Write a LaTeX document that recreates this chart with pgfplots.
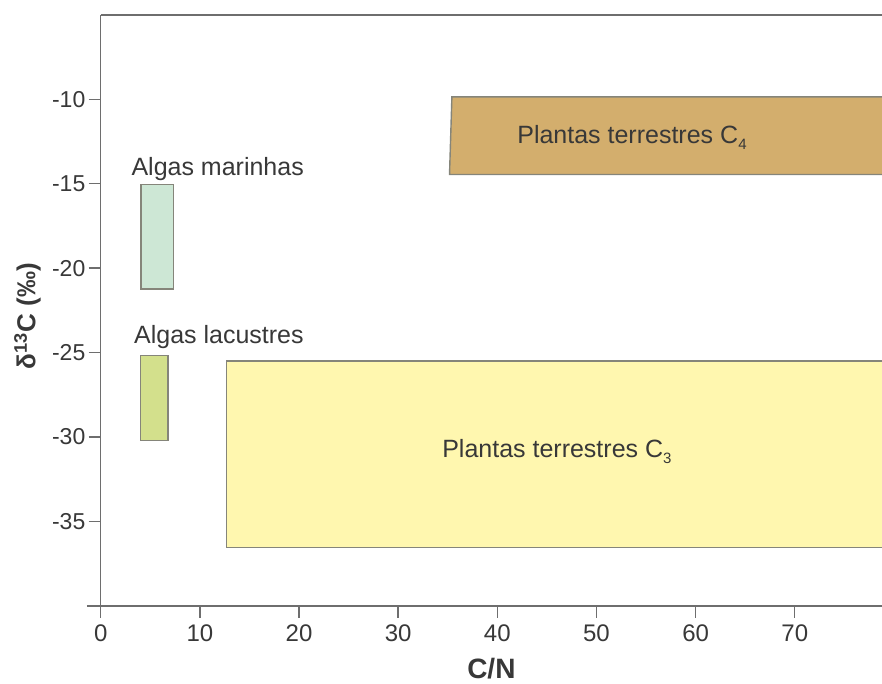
\documentclass[border=0pt]{standalone}
\usepackage{fontspec}
\setmainfont{Liberation Sans}
\usepackage{pgfplots}
\pgfplotsset{compat=1.18}
\definecolor{axisgray}{HTML}{6E6E6E}
\definecolor{txt}{HTML}{383838}
\definecolor{edge}{HTML}{85857A}
\definecolor{marfill}{HTML}{CDE7D5}
\definecolor{lacfill}{HTML}{D3E08C}
\definecolor{cthree}{HTML}{FFF7AF}
\definecolor{cfour}{HTML}{D3AE6D}
\newcommand{\sub}[1]{\raisebox{-0.45ex}{\fontsize{7.5}{8}\selectfont #1}}
\begin{document}
\begin{tikzpicture}
\useasboundingbox (-50.35pt,-39.15pt) rectangle (390.65pt,302.85pt);
\begin{axis}[
  scale only axis, width=390.65pt, height=295.35pt,
  xmin=0, xmax=78.8, ymin=-40, ymax=-5,
  axis lines=left,
  axis line style={-, draw=axisgray, line width=0.8pt},
  tick align=outside, major tick length=6pt,
  tick style={axisgray, line width=0.7pt},
  xtick={0,10,...,70}, ytick={-35,-30,...,-10},
  /pgf/number format/assume math mode=true,
  ticklabel style={text=txt},
  x tick label style={font=\fontsize{12}{14}\selectfont},
  y tick label style={font=\fontsize{11.5}{14}\selectfont, inner sep=1.5pt},
  clip mode=individual,
  xlabel={C/N},
  xlabel style={at={(axis description cs:0.5,-0.124)}, anchor=base, font=\bfseries\fontsize{14}{16}\selectfont, text=txt},
  ylabel={δ\textsuperscript{13}C (‰)},
  ylabel style={at={(axis description cs:-0.0937,0.49)}, anchor=center, font=\bfseries\fontsize{13}{15}\selectfont, text=txt},
]
\addplot[fill=marfill, draw=edge, line width=0.7pt] coordinates {(4.07,-15.04) (7.33,-15.04) (7.33,-21.23) (4.07,-21.23)} -- cycle;
\addplot[fill=lacfill, draw=edge, line width=0.7pt] coordinates {(4.0,-25.17) (6.79,-25.17) (6.79,-30.2) (4.0,-30.2)} -- cycle;
\addplot[fill=cthree, draw=edge, line width=0.7pt] coordinates {(12.71,-25.5) (85,-25.5) (85,-36.54) (12.71,-36.54)} -- cycle;
\addplot[fill=cfour, draw=edge, line width=0.7pt] coordinates {(35.42,-9.85) (85,-9.85) (85,-14.45) (35.18,-14.45)} -- cycle;
\draw[axisgray, line width=0.8pt] (axis cs:-1.4,-40) -- (axis cs:0,-40);
\draw[axisgray, line width=0.8pt] (rel axis cs:0,1) -- (rel axis cs:1,1);
\begin{scope}[every node/.style={inner sep=0pt, text=txt, font=\fontsize{12.5}{15}\selectfont}]
\node[anchor=base] at (axis cs:11.8,-14.49) {Algas marinhas};
\node[anchor=base] at (axis cs:11.92,-24.44) {Algas lacustres};
\node[anchor=base west] at (axis cs:41.98,-12.61) {Plantas terrestres C\sub{4}};
\node[anchor=base west] at (axis cs:34.41,-31.2) {Plantas terrestres C\sub{3}};
\end{scope}
\end{axis}
\end{tikzpicture}
\end{document}
